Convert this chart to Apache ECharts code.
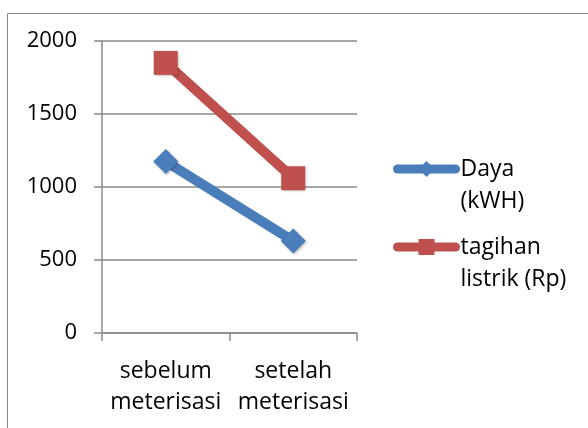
<!DOCTYPE html>
<html>
<head>
<meta charset="utf-8">
<script src="https://cdn.jsdelivr.net/npm/echarts@6/dist/echarts.min.js"></script>
<style>
html,body{margin:0;padding:0;background:#fff;}
#chart{width:588px;height:428px;}
</style>
</head>
<body>
<div id="chart"></div>
<script>
var categories = ['sebelum\nmeterisasi', 'setelah\nmeterisasi'];
var dayaValues = [1175, 630];
var tagihanValues = [1850, 1060];
var seriesNames = ['Daya (kWH)', 'tagihan listrik (Rp)'];
var yTicks = [0, 500, 1000, 1500, 2000];

var FONT = 'Open Sans';
var chart = echarts.init(document.getElementById('chart'), null, {renderer: 'canvas'});
var legendCommon = {
  orient: 'vertical',
  left: 393,
  padding: 0,
  itemWidth: 58,
  itemHeight: 20,
  itemGap: 0,
  selectedMode: false,
  lineStyle: {width: 9, cap: 'round'},
  formatter: function (n) {
    var i = n.indexOf(' ');
    return '\n' + n.slice(0, i) + '\n' + n.slice(i + 1);
  },
  textStyle: {fontFamily: FONT, fontSize: 23, color: '#000', lineHeight: 32}
};
var option = {
  backgroundColor: '#fff',
  animation: false,
  graphic: [{
    type: 'rect', left: 5, top: 11, silent: true,
    shape: {x: 0, y: 0, width: 700, height: 600},
    style: {fill: 'none', stroke: '#8a8a8a', lineWidth: 1}
  }],
  legend: [
    Object.assign({}, legendCommon, {top: 121, data: [seriesNames[0]]}),
    Object.assign({}, legendCommon, {top: 199, data: [seriesNames[1]]})
  ],
  grid: {left: 102, right: 231, top: 41, height: 292, containLabel: false},
  xAxis: {
    type: 'category',
    data: categories,
    boundaryGap: true,
    axisLine: {show: true, lineStyle: {color: '#8a8a8a', width: 1.5}},
    axisTick: {show: true, length: 8, inside: false, lineStyle: {color: '#8a8a8a', width: 1.5}},
    axisLabel: {interval: 0, fontFamily: FONT, fontSize: 23, color: '#000', lineHeight: 31, margin: 23},
    splitLine: {show: false}
  },
  yAxis: {
    type: 'value',
    min: yTicks[0],
    max: yTicks[yTicks.length - 1],
    interval: 500,
    axisLine: {show: true, lineStyle: {color: '#8a8a8a', width: 1.5}},
    axisTick: {show: true, length: 8, lineStyle: {color: '#8a8a8a', width: 1.5}},
    axisLabel: {fontFamily: FONT, fontSize: 22, color: '#000', margin: 25, formatter: function (v) { return String(v); }},
    splitLine: {show: true, lineStyle: {color: '#8a8a8a', width: 1.5}}
  },
  series: [
    {
      name: seriesNames[0],
      type: 'line',
      data: dayaValues,
      symbol: 'diamond',
      symbolSize: 25,
      lineStyle: {color: '#4A7EBB', width: 10, cap: 'round'},
      itemStyle: {color: '#4A7EBB', shadowBlur: 3, shadowColor: 'rgba(0,0,0,0.3)', shadowOffsetX: 1, shadowOffsetY: 1}
    },
    {
      name: seriesNames[1],
      type: 'line',
      data: tagihanValues,
      symbol: 'rect',
      symbolSize: 24,
      lineStyle: {color: '#C0504D', width: 10, cap: 'round'},
      itemStyle: {color: '#C0504D', shadowBlur: 3, shadowColor: 'rgba(0,0,0,0.3)', shadowOffsetX: 1, shadowOffsetY: 1}
    }
  ]
};
chart.setOption(option);
</script>
</body>
</html>
